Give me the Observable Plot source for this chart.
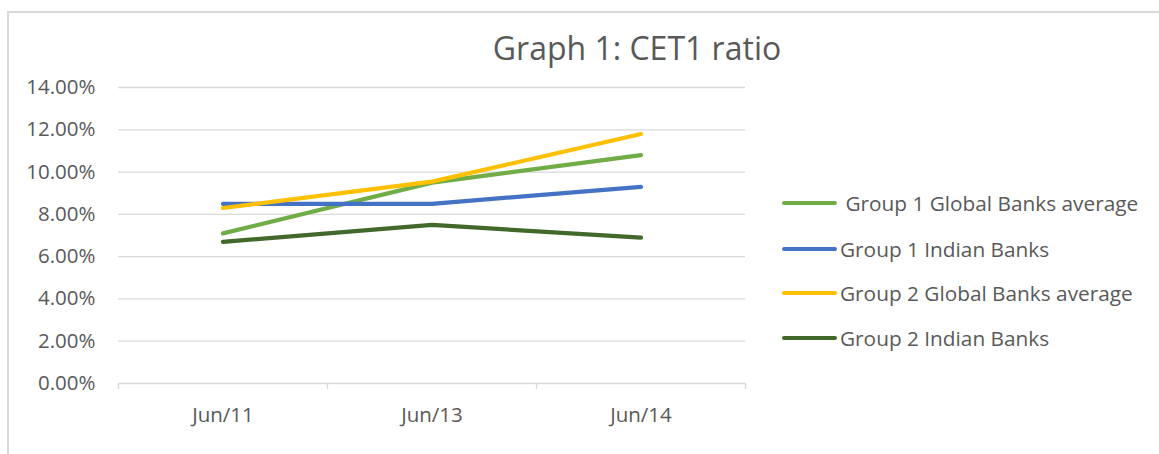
<!DOCTYPE html>
<html>
<head>
<meta charset="utf-8">
<script src="https://cdn.jsdelivr.net/npm/d3@7"></script>
<script src="https://cdn.jsdelivr.net/npm/@observablehq/plot@0.6"></script>
<style>
  html, body { margin: 0; padding: 0; background: #fff; }
  #wrap { position: relative; width: 1159px; height: 454px; overflow: hidden; font-family: "Open Sans", sans-serif; color: #595959; }
  #frame { position: absolute; left: 7px; top: 11px; width: 1200px; height: 500px; border-top: 2px solid #d9d9d9; border-left: 2px solid #d9d9d9; }
  #title { position: absolute; left: 637px; top: 28px; transform: translateX(-50%); font-size: 32px; line-height: 40px; white-space: nowrap; }
  #chart { position: absolute; left: 0; top: 0; }
  #legend { position: absolute; left: 782px; top: 0; }
  .item { position: absolute; left: 0; white-space: pre; font-size: 20.8px; line-height: 28px; display: flex; align-items: center; }
  .swatch { width: 55px; height: 4px; border-radius: 2px; margin-right: 3px; }
</style>
</head>
<body>
<div id="wrap">
  <div id="frame"></div>
  <div id="chart"></div>
  <div id="title">Graph 1: CET1 ratio</div>
  <div id="legend"></div>
</div>
<script>
const categories = ["Jun/11", "Jun/13", "Jun/14"];
const seriesNames = [" Group 1 Global Banks average", "Group 1 Indian Banks", "Group 2 Global Banks average", "Group 2 Indian Banks"];
const seriesColors = ["#70ad47", "#4472c4", "#ffc000", "#43682b"];
const group1Global = [7.1, 9.5, 10.8];
const group1Indian = [8.5, 8.5, 9.3];
const group2Global = [8.3, 9.55, 11.8];
const group2Indian = [6.7, 7.5, 6.9];
const yTicks = [0, 2, 4, 6, 8, 10, 12, 14];

const seriesValues = [group1Global, group1Indian, group2Global, group2Indian];
const rows = seriesNames.flatMap((name, s) =>
  categories.map((c, i) => ({series: name, i, value: seriesValues[s][i]}))
);

const chart = Plot.plot({
  width: 1159,
  height: 454,
  marginLeft: 118,
  marginRight: 414,
  marginTop: 87,
  marginBottom: 71,
  style: {fontFamily: "Open Sans, sans-serif", fontSize: "20.5px", color: "#595959", background: "transparent", overflow: "visible"},
  x: {domain: [0, categories.length]},
  y: {domain: [0, 14]},
  color: {domain: seriesNames, range: seriesColors},
  marks: [
    Plot.gridY(yTicks, {stroke: "#d9d9d9", strokeOpacity: 1, strokeWidth: 1.3}),
    Plot.axisX(d3.range(categories.length + 1), {tickSize: 6, tickFormat: () => "", stroke: "#d9d9d9", strokeWidth: 1.3, label: null}),
    Plot.axisX(categories.map((c, i) => i + 0.5), {tickSize: 0, tickPadding: 24, tickFormat: d => categories[Math.round(d - 0.5)], label: null, fill: "#595959"}),
    Plot.axisY(yTicks, {tickSize: 0, tickPadding: 23, tickFormat: d => d.toFixed(2) + "%", label: null, fill: "#595959"}),
    Plot.line(rows, {x: d => d.i + 0.5, y: "value", z: "series", stroke: "series", strokeWidth: 4.2, strokeLinecap: "round", strokeLinejoin: "round"})
  ]
});
document.getElementById("chart").appendChild(chart);

const legendTops = [189, 235, 279, 324];
const legend = document.getElementById("legend");
seriesNames.forEach((name, k) => {
  const item = document.createElement("div");
  item.className = "item";
  item.style.top = legendTops[k] + "px";
  const sw = document.createElement("div");
  sw.className = "swatch";
  sw.style.background = seriesColors[k];
  const tx = document.createElement("span");
  tx.textContent = name;
  item.appendChild(sw);
  item.appendChild(tx);
  legend.appendChild(item);
});
</script>
</body>
</html>
